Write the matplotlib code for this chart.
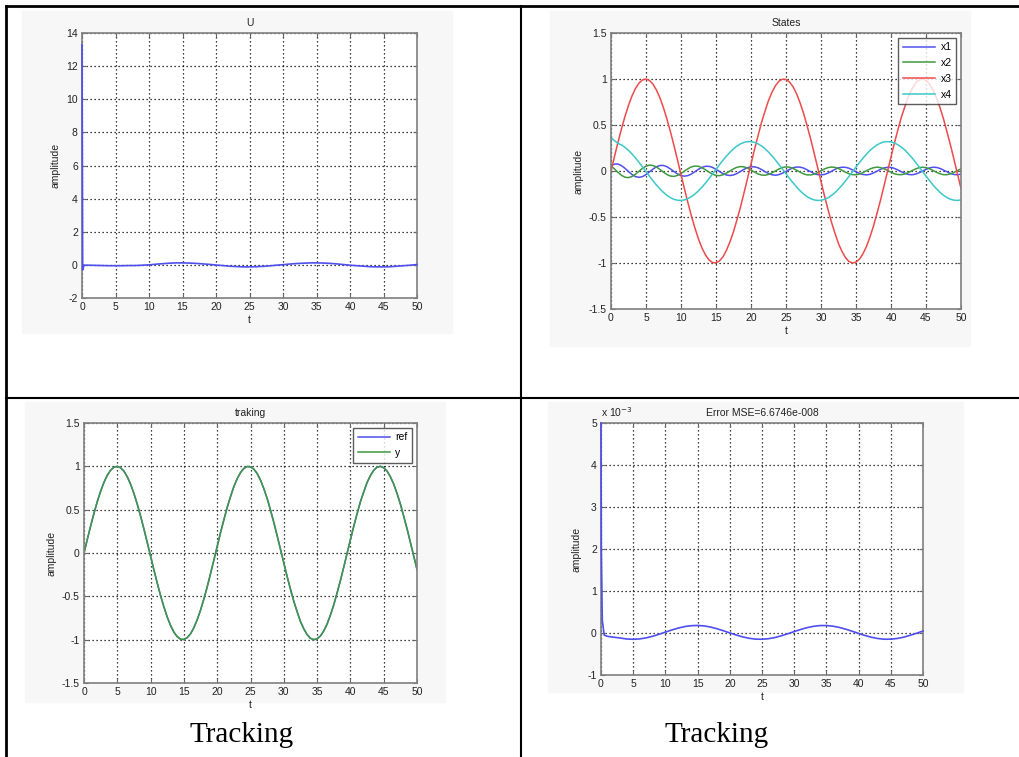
import numpy as np
import matplotlib
matplotlib.use('Agg')
import matplotlib.pyplot as plt
from matplotlib.lines import Line2D
from matplotlib.patches import Rectangle

# time grids
t = np.arange(0, 51)
t_half = np.arange(0, 50.5, 0.5)

# control input U (initial kick, then small oscillation)
u_t = [0, 0.1, 0.3] + list(range(1, 51))
u_vals = [13.3, -0.3, -0.02,
          -0.02, -0.03, -0.04, -0.05, -0.05, -0.05, -0.04, -0.04, -0.02, 0.00,
          0.04, 0.07, 0.10, 0.12, 0.12, 0.11, 0.09, 0.06, 0.03, -0.01,
          -0.04, -0.08, -0.10, -0.12, -0.12, -0.11, -0.09, -0.06, -0.02, 0.01,
          0.05, 0.08, 0.10, 0.12, 0.12, 0.11, 0.09, 0.06, 0.02, -0.02,
          -0.05, -0.08, -0.11, -0.12, -0.12, -0.11, -0.08, -0.05, -0.02, 0.02]

# states, sampled every 0.5 s
x1 = [0.057, 0.075, 0.076, 0.058, 0.029, -0.006, -0.038, -0.061, -0.069, -0.061,
      -0.039, -0.010, 0.021, 0.046, 0.060, 0.060, 0.046, 0.022, -0.006, -0.032,
      -0.050, -0.056, -0.050, -0.032, -0.007, 0.019, 0.039, 0.051, 0.051, 0.039,
      0.018, -0.006, -0.028, -0.044, -0.049, -0.043, -0.027, -0.005, 0.018, 0.036,
      0.046, 0.045, 0.035, 0.016, -0.007, -0.027, -0.041, -0.046, -0.039, -0.024,
      -0.004, 0.017, 0.035, 0.043, 0.042, 0.032, 0.014, -0.007, -0.027, -0.039,
      -0.043, -0.037, -0.023, -0.003, 0.018, 0.034, 0.041, 0.040, 0.030, 0.012,
      -0.008, -0.026, -0.038, -0.042, -0.036, -0.021, -0.002, 0.018, 0.033, 0.040,
      0.039, 0.028, 0.011, -0.009, -0.026, -0.038, -0.041, -0.034, -0.020, -0.001,
      0.018, 0.033, 0.041, 0.039, 0.028, 0.010, -0.009, -0.027, -0.038, -0.041,
      -0.034]
x2 = [0.056, 0.022, -0.015, -0.047, -0.068, -0.072, -0.060, -0.035, -0.003, 0.029,
      0.053, 0.064, 0.060, 0.043, 0.016, -0.013, -0.039, -0.055, -0.059, -0.048,
      -0.027, -0.001, 0.025, 0.045, 0.054, 0.051, 0.035, 0.013, -0.012, -0.034,
      -0.048, -0.051, -0.041, -0.023, 0.000, 0.023, 0.041, 0.048, 0.045, 0.031,
      0.010, -0.012, -0.032, -0.044, -0.046, -0.037, -0.020, 0.001, 0.022, 0.038,
      0.045, 0.041, 0.029, 0.009, -0.012, -0.031, -0.042, -0.043, -0.035, -0.018,
      0.002, 0.022, 0.037, 0.043, 0.039, 0.027, 0.008, -0.013, -0.030, -0.040,
      -0.041, -0.033, -0.017, 0.003, 0.022, 0.036, 0.042, 0.037, 0.025, 0.006,
      -0.013, -0.030, -0.039, -0.040, -0.031, -0.016, 0.004, 0.022, 0.036, 0.041,
      0.037, 0.024, 0.006, -0.014, -0.030, -0.040, -0.040, -0.031, -0.015, 0.005,
      0.023]
x3 = [0.000, 0.158, 0.313, 0.459, 0.594, 0.714, 0.816, 0.897, 0.956, 0.990,
      1.000, 0.984, 0.944, 0.879, 0.793, 0.686, 0.562, 0.424, 0.276, 0.120,
      -0.038, -0.196, -0.348, -0.493, -0.622, -0.740, -0.837, -0.913, -0.966, -0.995,
      -0.998, -0.977, -0.932, -0.861, -0.769, -0.659, -0.530, -0.391, -0.238, -0.082,
      0.076, 0.234, 0.383, 0.526, 0.650, 0.766, 0.857, 0.928, 0.976, 0.998,
      0.995, 0.968, 0.917, 0.841, 0.743, 0.630, 0.496, 0.354, 0.200, 0.044,
      -0.114, -0.271, -0.418, -0.557, -0.677, -0.790, -0.875, -0.942, -0.984, -1.000,
      -0.990, -0.958, -0.899, -0.820, -0.716, -0.598, -0.461, -0.318, -0.163, -0.005,
      0.152, 0.308, 0.452, 0.590, 0.704, 0.813, 0.892, 0.954, 0.990, 1.000,
      0.984, 0.946, 0.880, 0.796, 0.688, 0.567, 0.425, 0.281, 0.125, -0.033,
      -0.190]
x4 = [0.365, 0.330, 0.300, 0.284, 0.257, 0.224, 0.185, 0.141, 0.094, 0.044,
      -0.006, -0.057, -0.106, -0.153, -0.195, -0.233, -0.265, -0.290, -0.308, -0.318,
      -0.320, -0.314, -0.300, -0.278, -0.250, -0.215, -0.175, -0.131, -0.083, -0.032,
      0.018, 0.069, 0.117, 0.163, 0.204, 0.241, 0.271, 0.295, 0.311, 0.319,
      0.319, 0.311, 0.296, 0.272, 0.243, 0.206, 0.165, 0.119, 0.070, 0.020,
      -0.030, -0.081, -0.128, -0.173, -0.214, -0.249, -0.278, -0.299, -0.314, -0.320,
      -0.318, -0.308, -0.291, -0.266, -0.235, -0.196, -0.155, -0.108, -0.058, -0.008,
      0.043, 0.092, 0.140, 0.183, 0.223, 0.256, 0.284, 0.303, 0.316, 0.320,
      0.316, 0.304, 0.285, 0.258, 0.227, 0.186, 0.144, 0.096, 0.046, -0.005,
      -0.055, -0.104, -0.152, -0.194, -0.232, -0.264, -0.289, -0.307, -0.317, -0.320,
      -0.314]

# tracking: reference and output
ref = x3
y_out = x3

# tracking error, in units of 1e-3
err_t = [0, 0.05, 0.2, 0.5] + list(range(1, 51))
err_vals = [5.0, 2.0, 0.3, -0.05,
            -0.08, -0.10, -0.12, -0.143, -0.150, -0.141, -0.116, -0.078, -0.031, 0.021,
            0.072, 0.118, 0.153, 0.174, 0.180, 0.169, 0.142, 0.102, 0.054, 0.002,
            -0.048, -0.092, -0.126, -0.146, -0.149, -0.136, -0.108, -0.067, -0.018, 0.034,
            0.084, 0.127, 0.159, 0.177, 0.178, 0.163, 0.133, 0.091, 0.042, -0.010,
            -0.060, -0.101, -0.132, -0.148, -0.147, -0.130, -0.099, -0.055, -0.006, 0.046]
mse_label = 'Error MSE=6.6746e-008'

BLUE = '#4f4fee'
GREEN = '#3f9a3f'
RED = '#ee4a4a'
CYAN = '#3cc8c8'

plt.rcParams['font.family'] = ['Liberation Sans', 'DejaVu Sans']
plt.rcParams['axes.unicode_minus'] = False
fs = 7.5

fig = plt.figure(figsize=(10.19, 7.57), dpi=100)
W, H = 1019, 757


def px_axes(x0, y0, x1_, y1_):
    return fig.add_axes([x0 / W, 1 - y1_ / H, (x1_ - x0) / W, (y1_ - y0) / H])


def style(ax, ylim, yticks, title):
    ax.set_xlim(0, 50)
    ax.set_xticks(range(0, 51, 5))
    ax.set_ylim(*ylim)
    ax.set_yticks(yticks)
    ax.grid(True, color='black', linestyle=(0, (1, 2.2)), linewidth=0.9)
    ax.tick_params(direction='in', length=3, labelsize=fs, color='#666666',
                   labelcolor='#222222', pad=3, top=True, right=True)
    for s in ax.spines.values():
        s.set_color('#808080')
        s.set_linewidth(1.2)
    ax.set_xlabel('t', fontsize=fs, color='#222222', labelpad=2)
    ax.set_ylabel('amplitude', fontsize=fs, color='#222222', labelpad=4)
    ax.set_title(title, fontsize=fs, color='#222222', pad=5)


def legend(ax):
    leg = ax.legend(loc='upper right', fontsize=fs, frameon=True, fancybox=False,
                    edgecolor='#333333', handlelength=3.1, handletextpad=0.5,
                    borderaxespad=0.45, labelspacing=0.55, borderpad=0.45)
    leg.get_frame().set_linewidth(1.0)


# faint backgrounds of each exported figure
for (bx, by, bw, bh) in [(22, 11, 430, 322), (550, 11, 420, 335),
                          (25, 402, 420, 300), (548, 402, 415, 290)]:
    fig.patches.append(Rectangle((bx / W, 1 - (by + bh) / H), bw / W, bh / H,
                                 transform=fig.transFigure, color='#f7f7f7',
                                 zorder=-5))

# U
ax = px_axes(82, 33, 417, 298)
ax.plot(u_t, u_vals, color=BLUE, lw=1.2, zorder=3, clip_on=False)
style(ax, (-2, 14), range(-2, 15, 2), 'U')

# States
ax = px_axes(611, 33, 961, 309)
ax.plot(t_half, x1, color=BLUE, lw=1.1, label='x1')
ax.plot(t_half, x2, color=GREEN, lw=1.1, label='x2')
ax.plot(t_half, x3, color=RED, lw=1.1, label='x3')
ax.plot(t_half, x4, color=CYAN, lw=1.1, label='x4')
style(ax, (-1.5, 1.5), [-1.5, -1, -0.5, 0, 0.5, 1, 1.5], 'States')
ax.set_yticklabels(['-1.5', '-1', '-0.5', '0', '0.5', '1', '1.5'])
legend(ax)

# tracking
ax = px_axes(84, 423, 417, 683)
ax.plot(t_half, ref, color=BLUE, lw=1.1, label='ref')
ax.plot(t_half, y_out, color=GREEN, lw=1.1, label='y')
style(ax, (-1.5, 1.5), [-1.5, -1, -0.5, 0, 0.5, 1, 1.5], 'traking')
ax.set_yticklabels(['-1.5', '-1', '-0.5', '0', '0.5', '1', '1.5'])
legend(ax)

# error
ax = px_axes(601, 423, 923, 675)
ax.plot(err_t, err_vals, color=BLUE, lw=1.2, zorder=3, clip_on=False)
style(ax, (-1, 5), range(-1, 6), mse_label)
ax.text(0.0, 1.015, r'x 10$^{-3}$', transform=ax.transAxes, fontsize=fs,
        color='#222222', ha='left', va='bottom')

# table frame
lc = 'black'
fig.add_artist(Line2D([6 / W, 1], [1 - 6 / H, 1 - 6 / H], color=lc, lw=2))
fig.add_artist(Line2D([6 / W, 6 / W], [0, 1 - 6 / H], color=lc, lw=2))
fig.add_artist(Line2D([521 / W, 521 / W], [0, 1 - 6 / H], color=lc, lw=1.5))
fig.add_artist(Line2D([6 / W, 1], [1 - 398 / H, 1 - 398 / H], color=lc, lw=1.5))

# captions
for cx in (242, 717):
    fig.text(cx / W, 1 - 735 / H, 'Tracking', fontsize=21, ha='center',
             va='center', family='Liberation Serif')

fig.savefig('out.png', dpi=100)
